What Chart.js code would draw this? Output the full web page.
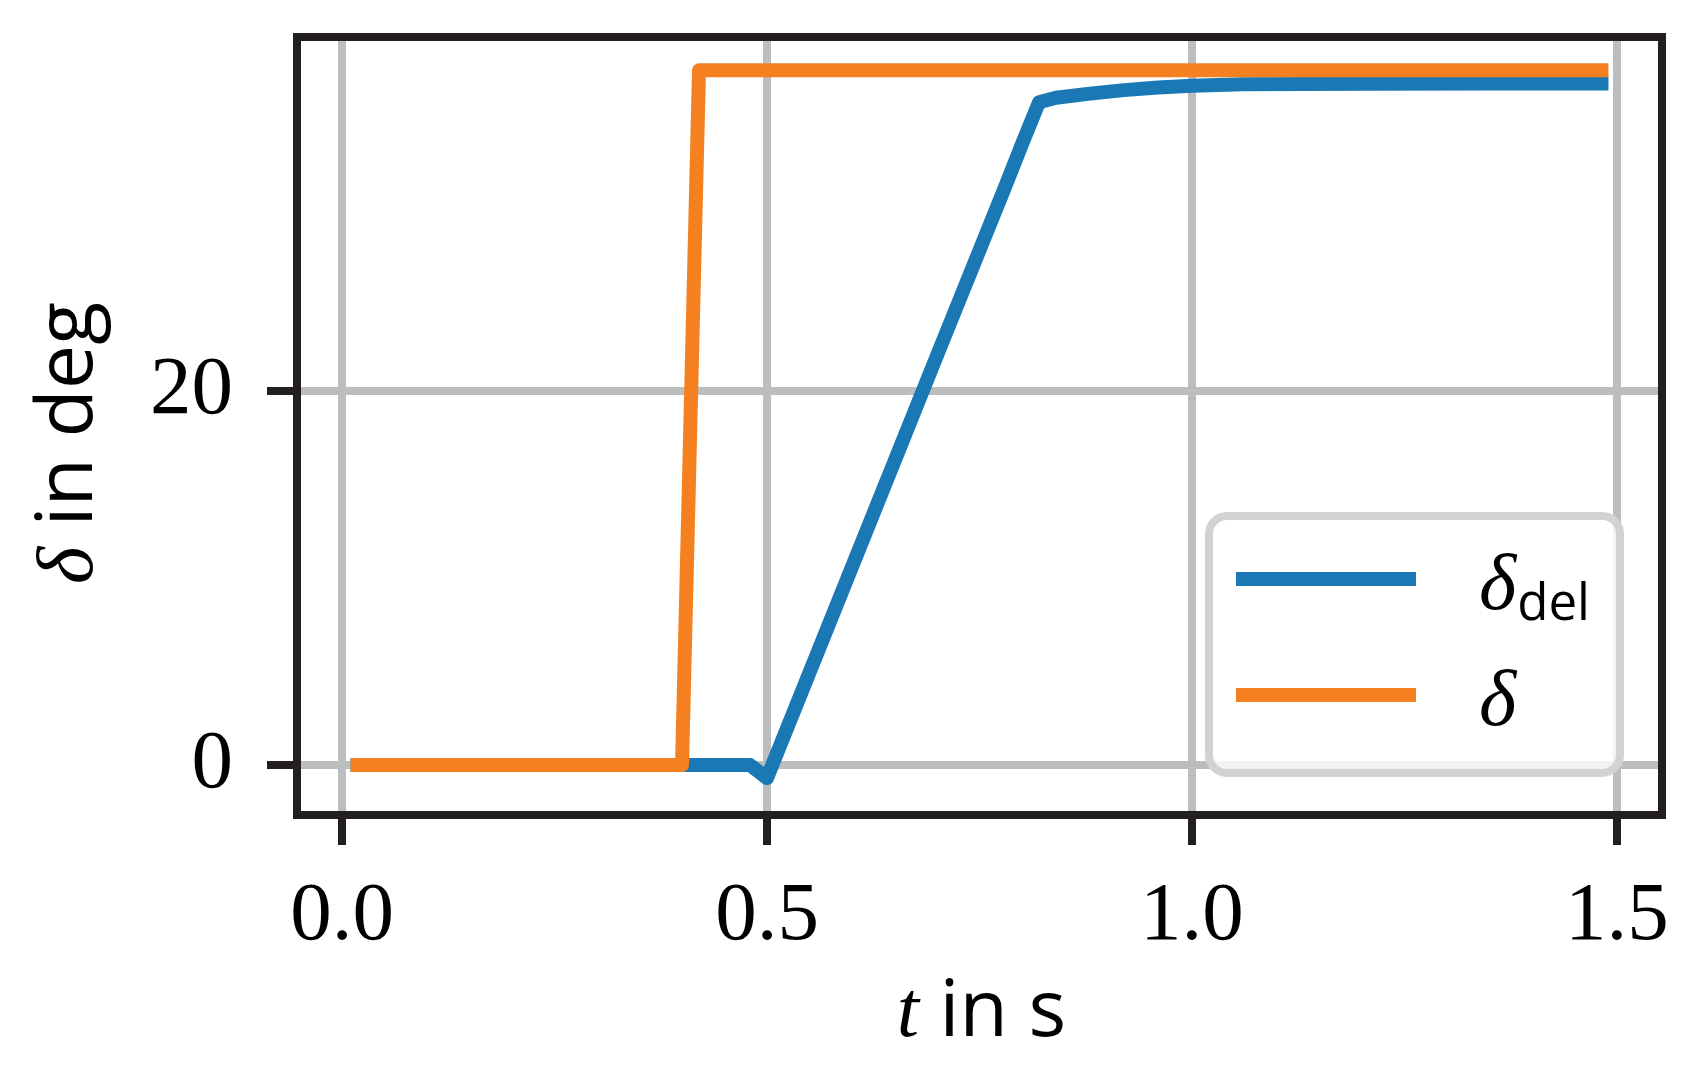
<!DOCTYPE html>
<html>
<head>
<meta charset="utf-8">
<script src="https://cdn.jsdelivr.net/npm/chart.js@4.4.0/dist/chart.umd.min.js"></script>
<style>
html, body { margin: 0; padding: 0; background: #fff; }
canvas { display: block; }
</style>
</head>
<body>
<canvas id="steerChart" width="1696" height="1069"></canvas>
<script>
// delayed steering angle (blue) and commanded steering angle (orange), deg over s
const tDelayed = [0.01, 0.48, 0.50, 0.60, 0.70, 0.78, 0.80, 0.82, 0.84, 0.88, 0.92, 0.96, 1.00, 1.06, 1.20, 1.35, 1.49];
const deltaDelayed = [0, 0, -0.7, 10.6, 21.9, 30.9, 33.2, 35.44, 35.68, 35.9, 36.09, 36.23, 36.32, 36.4, 36.43, 36.45, 36.45];
const tCommand = [0.01, 0.40, 0.42, 1.49];
const deltaCommand = [0, 0, 37.15, 37.15];

const seriesLabels = ['δ_del', 'δ'];
const seriesColors = ['#1a78b4', '#f58020'];
const xTicks = [0, 0.5, 1.0, 1.5];
const yTicks = [0, 20];
const xRange = [-0.053, 1.553];
const yRange = [-2.67, 38.93];

const SERIF = '"Liberation Serif", "DejaVu Serif", serif';
const SANS = '"Open Sans", "DejaVu Sans", sans-serif';
const INK = '#231f20';

function toPoints(xs, ys) {
    return xs.map((x, i) => ({ x, y: ys[i] }));
}

// draw a run of text pieces with different fonts, centred on (0, 0) baseline
function drawRich(ctx, parts) {
    let total = 0;
    parts.forEach(p => {
        ctx.font = p.font;
        p.w = ctx.measureText(p.text).width;
        total += p.w;
    });
    let x = -total / 2;
    parts.forEach(p => {
        ctx.font = p.font;
        ctx.fillText(p.text, x, p.dy || 0);
        x += p.w;
    });
}

function roundRectPath(ctx, x, y, w, h, r) {
    ctx.beginPath();
    ctx.moveTo(x + r, y);
    ctx.lineTo(x + w - r, y);
    ctx.arcTo(x + w, y, x + w, y + r, r);
    ctx.lineTo(x + w, y + h - r);
    ctx.arcTo(x + w, y + h, x + w - r, y + h, r);
    ctx.lineTo(x + r, y + h);
    ctx.arcTo(x, y + h, x, y + h - r, r);
    ctx.lineTo(x, y + r);
    ctx.arcTo(x, y, x + r, y, r);
    ctx.closePath();
}

const framePlugin = {
    id: 'frame',
    afterDatasetsDraw(chart) {
        const { ctx, chartArea: a } = chart;
        ctx.save();
        ctx.lineWidth = 8;
        ctx.strokeStyle = INK;
        ctx.lineJoin = 'miter';
        ctx.strokeRect(a.left, a.top, a.right - a.left, a.bottom - a.top);
        ctx.restore();
    },
};

const axisTitles = {
    id: 'axisTitles',
    afterDraw(chart) {
        const { ctx, chartArea: a } = chart;
        ctx.save();
        ctx.fillStyle = '#000';
        ctx.textBaseline = 'alphabetic';
        ctx.textAlign = 'left';

        ctx.save();
        ctx.translate((a.left + a.right) / 2 + 2, 1036);
        drawRich(ctx, [
            { text: 't', font: `italic 80px ${SERIF}` },
            { text: ' in s', font: `79px ${SANS}` },
        ]);
        ctx.restore();

        ctx.save();
        ctx.translate(92, (a.top + a.bottom) / 2 + 17);
        ctx.rotate(-Math.PI / 2);
        drawRich(ctx, [
            { text: 'δ', font: `italic 80px ${SERIF}` },
            { text: ' in deg', font: `79px ${SANS}` },
        ]);
        ctx.restore();
        ctx.restore();
    },
};

const legendBox = {
    id: 'legendBox',
    afterDraw(chart) {
        const { ctx, chartArea: a } = chart;
        const right = a.right - 42;
        const bottom = a.bottom - 42;
        const w = 411;
        const h = 257;
        ctx.save();
        roundRectPath(ctx, right - w, bottom - h, w, h, 18);
        ctx.fillStyle = 'rgba(255,255,255,0.8)';
        ctx.fill();
        ctx.lineWidth = 8;
        ctx.strokeStyle = '#d1d2d4';
        ctx.stroke();

        chart.data.datasets.forEach((ds, i) => {
            const y = bottom - h + 63 + i * 116;
            ctx.beginPath();
            ctx.moveTo(right - w + 27, y);
            ctx.lineTo(right - w + 207, y);
            ctx.lineWidth = 14;
            ctx.lineCap = 'butt';
            ctx.strokeStyle = ds.borderColor;
            ctx.stroke();

            const [main, sub] = ds.label.split('_');
            const tx = right - w + 270;
            const base = y + 30;
            ctx.fillStyle = '#000';
            ctx.textBaseline = 'alphabetic';
            ctx.textAlign = 'left';
            ctx.font = `italic 80px ${SERIF}`;
            ctx.fillText(main, tx, base);
            if (sub) {
                const mw = ctx.measureText(main).width;
                ctx.font = `51px ${SANS}`;
                ctx.fillText(sub, tx + mw + 1, base + 11);
            }
        });
        ctx.restore();
    },
};

const ctx = document.getElementById('steerChart').getContext('2d');

new Chart(ctx, {
    type: 'line',
    data: {
        datasets: [
            {
                label: seriesLabels[0],
                data: toPoints(tDelayed, deltaDelayed),
                borderColor: seriesColors[0],
                order: 1,
            },
            {
                label: seriesLabels[1],
                data: toPoints(tCommand, deltaCommand),
                borderColor: seriesColors[1],
                order: 0,
            },
        ],
    },
    options: {
        responsive: false,
        animation: false,
        events: [],
        layout: { padding: { top: 37, right: 34, left: 0, bottom: 0 } },
        elements: {
            line: { borderWidth: 14, tension: 0, borderJoinStyle: 'round', fill: false },
            point: { radius: 0 },
        },
        plugins: {
            legend: { display: false },
            tooltip: { enabled: false },
        },
        scales: {
            x: {
                type: 'linear',
                min: xRange[0],
                max: xRange[1],
                afterFit: s => {
                    s.height = 1069 - 815;
                    s.paddingLeft = 0;
                    s.paddingRight = 0;
                },
                afterBuildTicks: s => { s.ticks = xTicks.map(v => ({ value: v })); },
                border: { display: false },
                grid: {
                    color: '#bcbdbf',
                    lineWidth: 8,
                    tickColor: INK,
                    tickWidth: 8,
                    tickLength: 30,
                },
                ticks: {
                    padding: 22,
                    color: '#000',
                    font: { family: SERIF, size: 83 },
                    maxRotation: 0,
                    callback: v => v.toFixed(1),
                },
            },
            y: {
                type: 'linear',
                min: yRange[0],
                max: yRange[1],
                afterFit: s => {
                    s.width = 297;
                    s.paddingTop = 0;
                    s.paddingBottom = 0;
                },
                afterBuildTicks: s => { s.ticks = yTicks.map(v => ({ value: v })); },
                border: { display: false },
                grid: {
                    color: '#bcbdbf',
                    lineWidth: 8,
                    tickColor: INK,
                    tickWidth: 8,
                    tickLength: 30,
                },
                ticks: {
                    padding: 34,
                    color: '#000',
                    font: { family: SERIF, size: 83 },
                    callback: v => String(v),
                },
            },
        },
    },
    plugins: [framePlugin, axisTitles, legendBox],
});
</script>
</body>
</html>
